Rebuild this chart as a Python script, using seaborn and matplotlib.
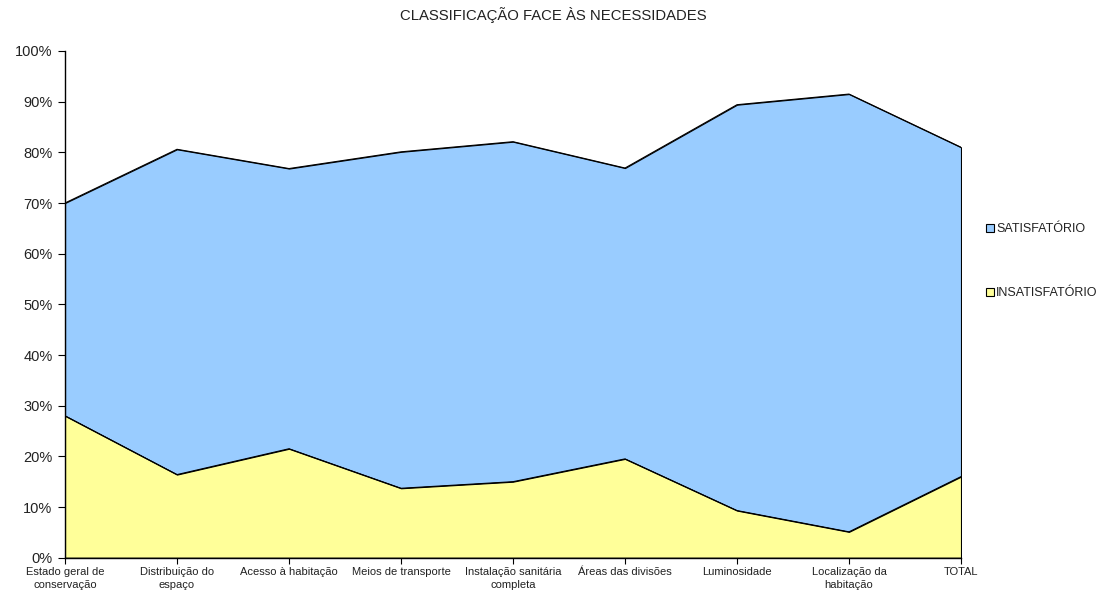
import numpy as np
import pandas as pd
import seaborn as sns
import matplotlib.pyplot as plt
from matplotlib.patches import Patch
from matplotlib.ticker import PercentFormatter

categories = ['Estado geral de\nconservação', 'Distribuição do\nespaço', 'Acesso à habitação',
              'Meios de transporte', 'Instalação sanitária\ncompleta', 'Áreas das divisões',
              'Luminosidade', 'Localização da\nhabitação', 'TOTAL']
insatisfatorio = [28.0, 16.4, 21.5, 13.7, 15.0, 19.5, 9.3, 5.1, 16.0]
satisfatorio = [42.0, 64.2, 55.3, 66.4, 67.1, 57.4, 80.1, 86.4, 65.0]

SAT_COLOR = '#99ccff'
INSAT_COLOR = '#ffff99'


def main():
    sns.set_theme(style='ticks')
    plt.rcParams['font.family'] = ['Liberation Sans', 'DejaVu Sans']

    df = pd.DataFrame({'cat': categories, 'insat': insatisfatorio, 'sat': satisfatorio})
    df['pos'] = np.arange(len(df))
    df['top'] = df['insat'] + df['sat']

    fig = plt.figure(figsize=(11.11, 5.95), dpi=100)
    ax = fig.add_axes([65 / 1111, 1 - 557.7 / 595, 896 / 1111, (557.7 - 51) / 595])

    ax.fill_between(df['pos'], df['insat'], df['top'], facecolor=SAT_COLOR,
                    edgecolor='black', linewidth=0.8)
    ax.fill_between(df['pos'], 0, df['insat'], facecolor=INSAT_COLOR,
                    edgecolor='black', linewidth=0.8)
    sns.lineplot(data=df, x='pos', y='top', color='black', linewidth=0.8, ax=ax)
    sns.lineplot(data=df, x='pos', y='insat', color='black', linewidth=0.8, ax=ax)

    ax.set_xlim(0, len(df) - 1)
    ax.set_ylim(0, 100)
    ax.set_yticks(np.arange(0, 101, 10))
    ax.yaxis.set_major_formatter(PercentFormatter(decimals=0))
    ax.set_xticks(df['pos'])
    ax.set_xticklabels(df['cat'], fontsize=8, linespacing=1.35)
    ax.tick_params(axis='y', labelsize=10.5, length=5, width=0.8, color='black', pad=4,
                   labelcolor='#222222')
    ax.tick_params(axis='x', length=4, width=0.8, color='black', pad=3,
                   labelcolor='#222222')
    ax.set_xlabel('')
    ax.set_ylabel('')
    sns.despine(ax=ax)
    for s in ['left', 'bottom']:
        ax.spines[s].set_color('black')
        ax.spines[s].set_linewidth(1)

    fig.text(553 / 1111, 1 - 15 / 595, 'CLASSIFICAÇÃO FACE ÀS NECESSIDADES',
             ha='center', va='center', fontsize=10.7, color='#222222')

    handles = [Patch(facecolor=SAT_COLOR, edgecolor='black', linewidth=0.8),
               Patch(facecolor=INSAT_COLOR, edgecolor='black', linewidth=0.8)]
    fig.legend(handles, ['SATISFATÓRIO', 'INSATISFATÓRIO'], loc='upper left',
               bbox_to_anchor=(986 / 1111, 1 - 223 / 595), frameon=False, fontsize=9,
               handlelength=0.6, handleheight=0.6, handletextpad=0.2, labelspacing=4.16,
               borderaxespad=0, borderpad=0, labelcolor='#222222')

    fig.savefig('out.png', dpi=100)


if __name__ == '__main__':
    main()
